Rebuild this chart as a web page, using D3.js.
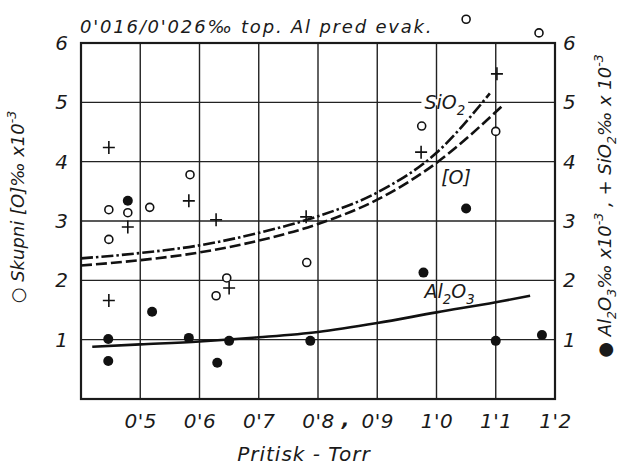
<!DOCTYPE html>
<html>
<head>
<meta charset="utf-8">
<script src="https://cdn.jsdelivr.net/npm/d3@7"></script>
<style>
  body { margin: 0; background: #fff; }
  text { font-family: "DejaVu Sans", sans-serif; font-style: italic; fill: #1a1a1a; }
</style>
</head>
<body>
<div id="chart"></div>
<script>
// tick values and labels
var xTicks = [0.5, 0.6, 0.7, 0.8, 0.9, 1.0, 1.1, 1.2];
var xTickLabels = ["0'5", "0'6", "0'7", "0'8", "0'9", "1'0", "1'1", "1'2"];
var yTicks = [1, 2, 3, 4, 5, 6];

// o  Skupni [O]
var oxygenX = [0.447, 0.479, 0.516, 0.584, 0.447, 0.628, 0.646, 0.781, 0.975, 1.10, 1.05, 1.173];
var oxygenY = [3.19, 3.14, 3.23, 3.78, 2.69, 1.74, 2.04, 2.30, 4.60, 4.51, 6.40, 6.17];
// +  SiO2
var sio2X = [0.447, 0.582, 0.479, 0.628, 0.447, 0.650, 0.780, 0.974, 1.102];
var sio2Y = [4.24, 3.34, 2.90, 3.02, 1.66, 1.87, 3.07, 4.16, 5.48];
// *  Al2O3
var al2o3X = [0.479, 0.520, 0.446, 0.582, 0.650, 0.446, 0.630, 0.787, 1.05, 0.978, 1.10, 1.178];
var al2o3Y = [3.34, 1.47, 1.01, 1.03, 0.98, 0.64, 0.61, 0.98, 3.21, 2.13, 0.98, 1.08];

// fitted curves
var sio2CurveX = [0.4, 0.5, 0.6, 0.7, 0.8, 0.9, 1.0, 1.09];
var sio2CurveY = [2.37, 2.46, 2.59, 2.80, 3.08, 3.48, 4.15, 5.15];
var oxyCurveX = [0.4, 0.5, 0.6, 0.7, 0.8, 0.9, 1.0, 1.112];
var oxyCurveY = [2.25, 2.34, 2.47, 2.67, 2.95, 3.36, 3.98, 4.95];
var alCurveX = [0.419, 0.5, 0.6, 0.7, 0.8, 0.9, 1.0, 1.1, 1.158];
var alCurveY = [0.88, 0.92, 0.97, 1.04, 1.13, 1.28, 1.46, 1.63, 1.74];

var width = 623, height = 469;
var svg = d3.select("#chart").append("svg")
	.attr("width", width)
	.attr("height", height);

var x = d3.scaleLinear().domain([0.4, 1.2]).range([81, 555]);
var y = d3.scaleLinear().domain([0, 6]).range([399, 43]);

function richText(sel, parts, size){
	parts.forEach(function(p){
		var t = sel.append("tspan").text(p[0]);
		if (p[1] == "sub") t.attr("font-size", size*0.7).attr("dy", size*0.3);
		else if (p[1] == "sup") t.attr("font-size", size*0.7).attr("dy", -size*0.45);
		else if (p[1] == "back") t.attr("dy", p[2]);
	});
}

// grid
var grid = svg.append("g").attr("stroke", "#222").attr("stroke-width", 1.4);
grid.selectAll(".vgrid").data(xTicks.slice(0, -1)).enter().append("line")
	.attr("x1", function(d){ return x(d); }).attr("x2", function(d){ return x(d); })
	.attr("y1", y(6)).attr("y2", y(0));
grid.selectAll(".hgrid").data(yTicks.slice(0, -1)).enter().append("line")
	.attr("x1", x(0.4)).attr("x2", x(1.2))
	.attr("y1", function(d){ return y(d); }).attr("y2", function(d){ return y(d); });
svg.append("rect")
	.attr("x", x(0.4)).attr("y", y(6))
	.attr("width", x(1.2) - x(0.4)).attr("height", y(0) - y(6))
	.attr("fill", "none").attr("stroke", "#1a1a1a").attr("stroke-width", 2.2);

// axes (labels only)
var xAxis = svg.append("g").attr("transform", "translate(0," + y(0) + ")")
	.call(d3.axisBottom(x).tickValues(xTicks).tickSize(0).tickPadding(15)
		.tickFormat(function(d, i){ return xTickLabels[i]; }));
var yLeft = svg.append("g").attr("transform", "translate(" + x(0.4) + ",0)")
	.call(d3.axisLeft(y).tickValues(yTicks).tickSize(0).tickPadding(13).tickFormat(d3.format("d")));
var yRight = svg.append("g").attr("transform", "translate(" + x(1.2) + ",0)")
	.call(d3.axisRight(y).tickValues(yTicks).tickSize(0).tickPadding(8).tickFormat(d3.format("d")));
[xAxis, yLeft, yRight].forEach(function(a){
	a.select(".domain").remove();
	a.selectAll("text").attr("font-family", "DejaVu Sans").attr("font-style", "italic").attr("fill", "#1a1a1a");
});
xAxis.selectAll("text").attr("font-size", 20).attr("letter-spacing", 0.5);
yLeft.selectAll("text").attr("font-size", 20);
yRight.selectAll("text").attr("font-size", 20);
svg.append("text").attr("x", (x(0.8) + x(0.9)) / 2 - 2).attr("y", y(0) + 27)
	.attr("text-anchor", "middle").attr("font-size", 20).attr("font-weight", "bold").text(",");

// curves
var line = d3.line().x(function(d){ return x(d[0]); }).y(function(d){ return y(d[1]); }).curve(d3.curveMonotoneX);
svg.append("path").datum(d3.zip(sio2CurveX, sio2CurveY)).attr("d", line)
	.attr("fill", "none").attr("stroke", "#111").attr("stroke-width", 2.6)
	.attr("stroke-dasharray", "12,3,2.5,3");
svg.append("path").datum(d3.zip(oxyCurveX, oxyCurveY)).attr("d", line)
	.attr("fill", "none").attr("stroke", "#111").attr("stroke-width", 2.6)
	.attr("stroke-dasharray", "11,4");
svg.append("path").datum(d3.zip(alCurveX, alCurveY)).attr("d", line)
	.attr("fill", "none").attr("stroke", "#111").attr("stroke-width", 2.6);

// curve labels
var sioLab = svg.append("text").attr("x", x(1.014)).attr("y", y(5) + 7)
	.attr("text-anchor", "middle").attr("font-size", 19);
richText(sioLab, [["SiO"], ["2", "sub"]], 19);
var bb = sioLab.node().getBBox();
svg.append("rect").attr("x", bb.x - 3).attr("y", y(5) - 3).attr("width", bb.width + 6).attr("height", 6).attr("fill", "#fff");
sioLab.raise();
svg.append("text").attr("x", x(1.033)).attr("y", y(3.62))
	.attr("text-anchor", "middle").attr("font-size", 19).text("[O]");
var alLab = svg.append("text").attr("x", x(1.022)).attr("y", y(1.70))
	.attr("text-anchor", "middle").attr("font-size", 19);
richText(alLab, [["Al"], ["2", "sub"], ["O", "back", -19*0.3], ["3", "sub"]], 19);

// points
svg.selectAll(".ox").data(d3.zip(oxygenX, oxygenY)).enter().append("circle")
	.attr("cx", function(d){ return x(d[0]); }).attr("cy", function(d){ return y(d[1]); })
	.attr("r", 4).attr("fill", "#fff").attr("stroke", "#111").attr("stroke-width", 1.6);
svg.selectAll(".si").data(d3.zip(sio2X, sio2Y)).enter().append("path")
	.attr("transform", function(d){ return "translate(" + x(d[0]) + "," + y(d[1]) + ")"; })
	.attr("d", "M-6,0H6M0,-6.5V6.5").attr("stroke", "#111").attr("stroke-width", 1.6);
svg.selectAll(".al").data(d3.zip(al2o3X, al2o3Y)).enter().append("circle")
	.attr("cx", function(d){ return x(d[0]); }).attr("cy", function(d){ return y(d[1]); })
	.attr("r", 5).attr("fill", "#111");

// titles
svg.append("text").attr("x", 80).attr("y", 33).attr("font-size", 18).attr("letter-spacing", 1.8)
	.text("0'016/0'026‰ top. Al pred evak.");
svg.append("text").attr("x", 304).attr("y", 461).attr("text-anchor", "middle").attr("font-size", 20).attr("letter-spacing", 1)
	.text("Pritisk - Torr");
var leftTitle = svg.append("text").attr("transform", "translate(24,207) rotate(-90)")
	.attr("text-anchor", "middle").attr("font-size", 18);
richText(leftTitle, [["○ Skupni [O]‰ x10"], ["-3", "sup"]], 18);
var rightTitle = svg.append("text").attr("transform", "translate(611,206) rotate(-90)")
	.attr("text-anchor", "middle").attr("font-size", 18);
richText(rightTitle, [["● Al"], ["2", "sub"], ["O", "back", -18*0.3], ["3", "sub"], ["‰ x10", "back", -18*0.3], ["-3", "sup"], [" , + SiO", "back", 18*0.45], ["2", "sub"], ["‰ x 10", "back", -18*0.3], ["-3", "sup"]], 18);
</script>
</body>
</html>
